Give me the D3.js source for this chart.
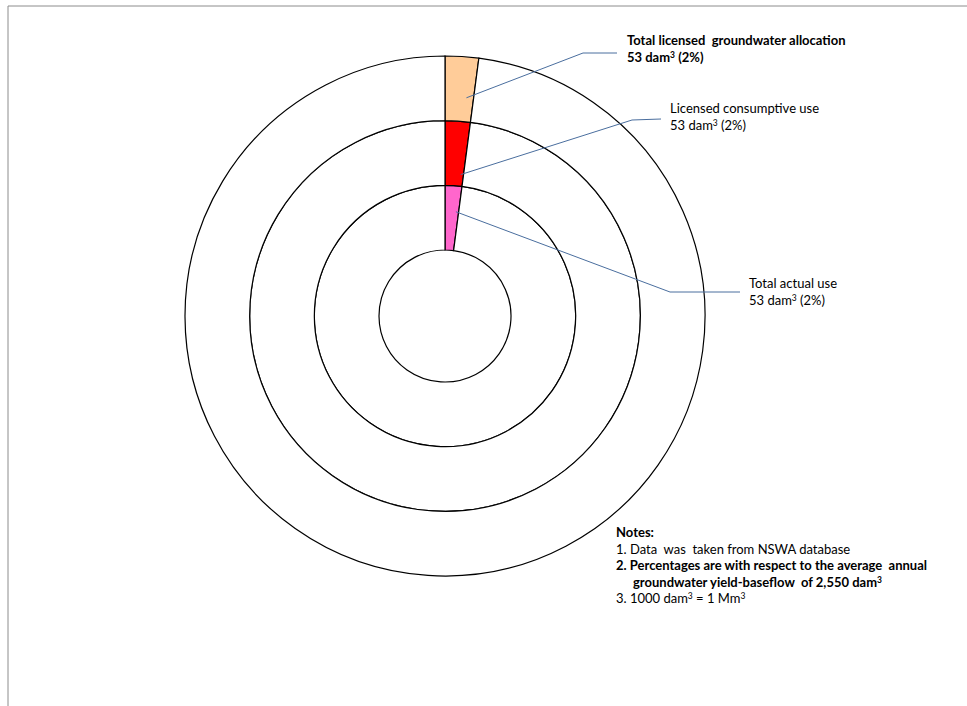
<!DOCTYPE html>
<html><head><meta charset="utf-8">
<script src="https://cdn.jsdelivr.net/npm/d3@7"></script>
<style>
body{margin:0;background:#fff;}
svg{display:block;}
text{font-family:Lato,"Open Sans",sans-serif;fill:#000;white-space:pre;}
</style></head>
<body>
<svg id="chart" width="967" height="706"></svg>
<script>
// ---- data ----
const categories = ["Total actual use", "Licensed consumptive use", "Total licensed  groundwater allocation"];
const values = [53, 53, 53];            // dam3
const percentLabels = ["2%", "2%", "2%"];
const baseflowTotal = 2550;             // average annual groundwater yield-baseflow, dam3
const notes = [
  {t: "Notes:", bold: true},
  {t: "1. Data  was  taken from NSWA database", bold: false},
  {t: "2. Percentages are with respect to the average  annual", bold: true},
  {t: "groundwater yield-baseflow  of 2,550 dam", sup: "3", bold: true, indent: true},
  {t: "3. 1000 dam", sup: "3", t2: " = 1 Mm", sup2: "3", bold: false}
];

// ---- style / layout ----
const colors = ["#FF66CC", "#FF0000", "#FFCC99"];
const boldLabel = [false, false, true];
const cx = 445, cy = 316;
const fs = 13;
const svg = d3.select("#chart");

// frame lines (top & left)
svg.append("line").attr("x1", 8).attr("y1", 6).attr("x2", 967).attr("y2", 6).attr("stroke", "#8c8c8c").attr("stroke-width", 1);
svg.append("line").attr("x1", 8).attr("y1", 6).attr("x2", 8).attr("y2", 706).attr("stroke", "#8c8c8c").attr("stroke-width", 1);

const rScale = d3.scaleLinear().domain([0, categories.length]).range([66, 260]);
const pie = d3.pie().sort(null).value(d => d);
const g = svg.append("g").attr("transform", `translate(${cx},${cy})`);

categories.forEach((c, i) => {
  const arcs = pie([values[i], baseflowTotal - values[i]]);
  const arc = d3.arc().innerRadius(rScale(i)).outerRadius(rScale(i + 1));
  g.selectAll(null).data(arcs).enter().append("path")
    .attr("d", arc)
    .attr("fill", (d, j) => j === 0 ? colors[i] : "#fff")
    .attr("stroke", "#000").attr("stroke-width", 1.2);
});

// leader lines
const anchorFrac = [0.6, 0.18, 0.37];
const anchorAng = [0.8, 0.85, 0.75];
const elbows = [[670, 292], [632, 120], [583, 53]];
const ends = [[740, 292], [661, 119], [617, 53]];
const textPos = [[749, 288], [670, 113], [627, 45]];

categories.forEach((c, i) => {
  const arcs = pie([values[i], baseflowTotal - values[i]]);
  const a = arcs[0].startAngle + (arcs[0].endAngle - arcs[0].startAngle) * anchorAng[i];
  const r = rScale(i) + (rScale(i + 1) - rScale(i)) * anchorFrac[i];
  const p0 = [cx + r * Math.sin(a), cy - r * Math.cos(a)];
  svg.append("polyline")
    .attr("points", [p0, elbows[i], ends[i]].map(p => p.join(",")).join(" "))
    .attr("fill", "none").attr("stroke", "#4A6E9E").attr("stroke-width", 1);

  const t = svg.append("text").attr("x", textPos[i][0]).attr("y", textPos[i][1])
    .attr("font-size", fs).attr("font-weight", boldLabel[i] ? "bold" : "normal");
  t.append("tspan").text(c);
  const t2 = svg.append("text").attr("x", textPos[i][0]).attr("y", textPos[i][1] + 17)
    .attr("font-size", fs).attr("font-weight", boldLabel[i] ? "bold" : "normal");
  t2.append("tspan").text(values[i] + " dam");
  t2.append("tspan").text("3").attr("font-size", 8.5).attr("dy", -4);
  t2.append("tspan").text(" (" + percentLabels[i] + ")").attr("dy", 4);
});

// notes
const nx = 616, ny = 537, lh = 16.5;
notes.forEach((n, i) => {
  const t = svg.append("text").attr("x", nx + (n.indent ? 17 : 0)).attr("y", ny + i * lh)
    .attr("font-size", fs).attr("font-weight", n.bold ? "bold" : "normal");
  t.append("tspan").text(n.t);
  if (n.sup) t.append("tspan").text(n.sup).attr("font-size", 8.5).attr("dy", -4);
  if (n.t2) t.append("tspan").text(n.t2).attr("dy", 4);
  if (n.sup2) t.append("tspan").text(n.sup2).attr("font-size", 8.5).attr("dy", -4);
});
</script>
</body></html>
